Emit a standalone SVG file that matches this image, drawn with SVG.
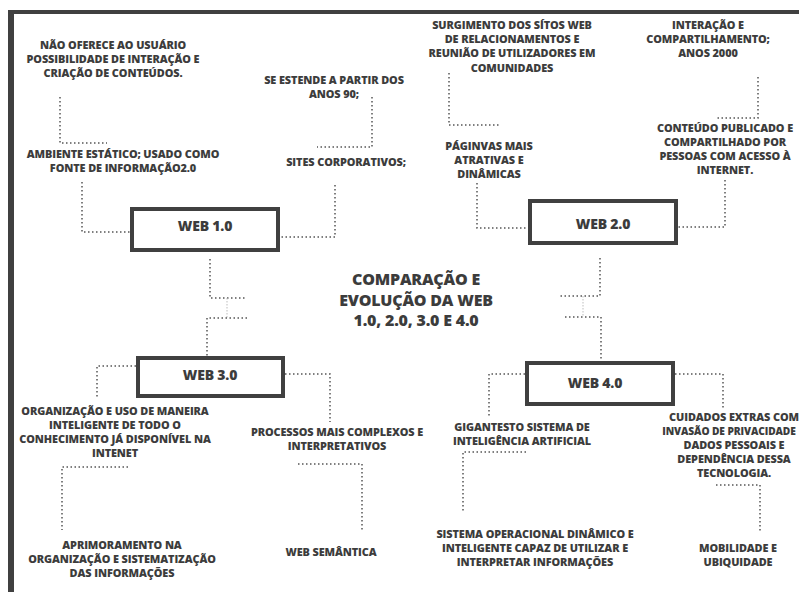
<svg xmlns="http://www.w3.org/2000/svg" width="799" height="592" viewBox="0 0 799 592">
<style>
  .t { font-family: "Open Sans", "Liberation Sans", sans-serif; font-weight: 800; font-size: 10.9px; fill: #3c3c3c; text-anchor: middle; letter-spacing: -0.1px; }
  .big { font-size: 14px; letter-spacing: -0.2px; }
  .title { font-size: 16px; letter-spacing: -0.2px; }
  .box { fill: #ffffff; stroke: #404040; stroke-width: 4; }
  .dot { fill: none; stroke: #555555; stroke-width: 1.5; stroke-dasharray: 1.5 2.5; }
  .light { fill: none; stroke: #bdbdbd; stroke-width: 1; stroke-dasharray: 1.5 1.5; }
  .frame { fill: #404040; }
</style>
<rect width="799" height="592" fill="#ffffff"/>
<g id="frame">
  <rect class="frame" x="8" y="10" width="791" height="4"/>
  <rect class="frame" x="8" y="10" width="6" height="582"/>
</g>
<g id="connectors">
  <polyline class="dot" points="60,97 60,143 107,143"/>
  <polyline class="dot" points="82,182 82,232 130,232"/>
  <polyline class="dot" points="372,97 372,147 317,147"/>
  <polyline class="dot" points="335,185 335,237 280,237"/>
  <polyline class="dot" points="210,259 210,298 247,298"/>
  <line class="light" x1="227" y1="298" x2="227" y2="318"/>
  <polyline class="dot" points="247,318 207,318 207,356"/>
  <polyline class="dot" points="449,73 449,125 500,125"/>
  <polyline class="dot" points="477,183 477,228 528,228"/>
  <polyline class="dot" points="758,77 758,118 715,118"/>
  <polyline class="dot" points="725,180 725,227 678,227"/>
  <polyline class="dot" points="600,258 600,296 559,296"/>
  <line class="light" x1="583" y1="296" x2="583" y2="317"/>
  <polyline class="dot" points="565,317 601,317 601,361"/>
  <polyline class="dot" points="136,366 97,366 97,398"/>
  <polyline class="dot" points="128,467 62,467 62,530"/>
  <polyline class="dot" points="285,374 330,374 330,422"/>
  <polyline class="dot" points="298,464 362,464 362,532"/>
  <polyline class="dot" points="525,374 489,374 489,418"/>
  <polyline class="dot" points="526,452 463,452 463,512"/>
  <polyline class="dot" points="675,374 723,374 723,410"/>
  <polyline class="dot" points="716,485 760,485 760,532"/>
</g>
<g id="title">
  <text class="t title" x="416" y="285">COMPARAÇÃO E</text>
  <text class="t title" x="416" y="306">EVOLUÇÃO DA WEB</text>
  <text class="t title" x="416" y="326">1.0, 2.0, 3.0 E 4.0</text>
</g>
<g id="web1">
  <rect class="box" x="132" y="209" width="146" height="41"/>
  <text class="t big" x="205" y="231">WEB 1.0</text>
</g>
<g id="web2">
  <rect class="box" x="530" y="201" width="146" height="42"/>
  <text class="t big" x="603" y="229">WEB 2.0</text>
</g>
<g id="web3">
  <rect class="box" x="138" y="358" width="145" height="38"/>
  <text class="t big" x="210" y="380">WEB 3.0</text>
</g>
<g id="web4">
  <rect class="box" x="527" y="363" width="146" height="41"/>
  <text class="t big" x="595" y="388">WEB 4.0</text>
</g>
<g id="n-nao-oferece">
  <text class="t" x="113" y="49">NÃO OFERECE AO USUÁRIO</text>
  <text class="t" x="113" y="63">POSSIBILIDADE DE INTERAÇÃO E</text>
  <text class="t" x="113" y="77">CRIAÇÃO DE CONTEÚDOS.</text>
</g>
<g id="n-se-estende">
  <text class="t" x="334" y="84">SE ESTENDE A PARTIR DOS</text>
  <text class="t" x="334" y="98">ANOS 90;</text>
</g>
<g id="n-ambiente">
  <text class="t" x="123" y="158">AMBIENTE ESTÁTICO; USADO COMO</text>
  <text class="t" x="123" y="172">FONTE DE INFORMAÇÃO2.0</text>
</g>
<g id="n-sites">
  <text class="t" x="346" y="166">SITES CORPORATIVOS;</text>
</g>
<g id="n-surgimento">
  <text class="t" x="512" y="29">SURGIMENTO DOS SÍTOS WEB</text>
  <text class="t" x="512" y="43">DE RELACIONAMENTOS E</text>
  <text class="t" x="512" y="57">REUNIÃO DE UTILIZADORES EM</text>
  <text class="t" x="512" y="72">COMUNIDADES</text>
</g>
<g id="n-paginas">
  <text class="t" x="489" y="150">PÁGINVAS MAIS</text>
  <text class="t" x="489" y="164">ATRATIVAS E</text>
  <text class="t" x="489" y="178">DINÂMICAS</text>
</g>
<g id="n-interacao">
  <text class="t" x="708" y="29">INTERAÇÃO E</text>
  <text class="t" x="708" y="43">COMPARTILHAMENTO;</text>
  <text class="t" x="708" y="57">ANOS 2000</text>
</g>
<g id="n-conteudo">
  <text class="t" x="725" y="132">CONTEÚDO PUBLICADO E</text>
  <text class="t" x="725" y="146">COMPARTILHADO POR</text>
  <text class="t" x="725" y="160">PESSOAS COM ACESSO À</text>
  <text class="t" x="725" y="174">INTERNET.</text>
</g>
<g id="n-organizacao">
  <text class="t" x="115" y="415">ORGANIZAÇÃO E USO DE MANEIRA</text>
  <text class="t" x="115" y="429">INTELIGENTE DE TODO O</text>
  <text class="t" x="115" y="443">CONHECIMENTO JÁ DISPONÍVEL NA</text>
  <text class="t" x="115" y="457">INTENET</text>
</g>
<g id="n-aprimoramento">
  <text class="t" x="122" y="549">APRIMORAMENTO NA</text>
  <text class="t" x="122" y="563">ORGANIZAÇÃO E SISTEMATIZAÇÃO</text>
  <text class="t" x="122" y="577">DAS INFORMAÇÕES</text>
</g>
<g id="n-processos">
  <text class="t" x="337" y="436">PROCESSOS MAIS COMPLEXOS E</text>
  <text class="t" x="337" y="450">INTERPRETATIVOS</text>
</g>
<g id="n-semantica">
  <text class="t" x="331" y="556">WEB SEMÂNTICA</text>
</g>
<g id="n-gigantesto">
  <text class="t" x="522" y="431">GIGANTESTO SISTEMA DE</text>
  <text class="t" x="522" y="445">INTELIGÊNCIA ARTIFICIAL</text>
</g>
<g id="n-sistema">
  <text class="t" x="535" y="538">SISTEMA OPERACIONAL DINÂMICO E</text>
  <text class="t" x="535" y="552">INTELIGENTE CAPAZ DE UTILIZAR E</text>
  <text class="t" x="535" y="566">INTERPRETAR INFORMAÇÕES</text>
</g>
<g id="n-cuidados">
  <text class="t" x="734" y="421">CUIDADOS EXTRAS COM</text>
  <text class="t" x="729" y="435" style="font-size:10.2px">INVASÃO DE PRIVACIDADE</text>
  <text class="t" x="734" y="449">DADOS PESSOAIS E</text>
  <text class="t" x="734" y="463">DEPENDÊNCIA DESSA</text>
  <text class="t" x="734" y="477">TECNOLOGIA.</text>
</g>
<g id="n-mobilidade">
  <text class="t" x="738" y="552">MOBILIDADE E</text>
  <text class="t" x="738" y="566">UBIQUIDADE</text>
</g>
</svg>
